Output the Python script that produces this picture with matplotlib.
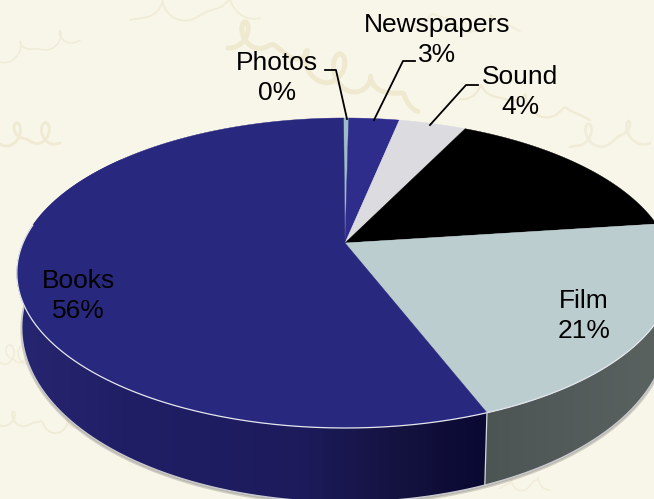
import numpy as np
import matplotlib
matplotlib.use('Agg')
import matplotlib.pyplot as plt
from matplotlib.patches import Polygon

plt.rcParams['font.family'] = ['Liberation Sans', 'DejaVu Sans']

# Slices, clockwise from 12 o'clock
categories = ['Photos', 'Newspapers', 'Sound', 'Other', 'Film', 'Books']
shares = [0.3, 3.0, 4.0, 15.7, 21.2, 55.8]
colors = ['#9dbcc6', '#2e2d8c', '#dcdce0', '#000000', '#bccdd0', '#29287f']

# Printed labels
label_text = ['Photos\n0%', 'Newspapers\n3%', 'Sound\n4%', 'Books\n56%', 'Film\n21%']
label_pos = [(277, 78), (437, 40), (520, 92), (78, 296), (584, 316)]

# Leader lines
leaders = [
    [(325, 70), (336, 70), (347, 119)],
    [(415, 61), (403, 61), (374, 120)],
    [(478, 85), (466, 85), (430, 125)],
]

# Perspective of the pie on screen
CX, CY = 345, 243
RX = 322
H = 149.2
K = 0.1935
START = -0.3


def top_xy(deg):
    t = np.radians(deg)
    u, v = np.sin(t), np.cos(t)
    d = 1 + K * v
    return CX + RX * u / d, CY - H * v / d


def bottom_xy(deg):
    x, y = top_xy(deg)
    v = np.cos(np.radians(deg))
    return CX + (x - CX) * 0.985, y + 50 - 24 * v


def arc(func, a, b):
    n = max(int(abs(b - a) * 2), 2)
    x, y = func(np.linspace(a, b, n))
    return np.column_stack([x, y])


def gradient_fill(ax, poly, stops, zorder):
    # horizontal gradient clipped to polygon
    xs = np.linspace(0, 654, 327)
    px = [s[0] for s in stops]
    rgb = np.array([matplotlib.colors.to_rgb(s[1]) for s in stops])
    img = np.stack([np.interp(xs, px, rgb[:, i]) for i in range(3)], axis=-1)[None, :, :]
    im = ax.imshow(img, extent=(0, 654, 499, 0), aspect='auto', zorder=zorder, interpolation='bilinear')
    patch = Polygon(poly, closed=True, transform=ax.transData, fc='none', ec='none')
    ax.add_patch(patch)
    im.set_clip_path(patch)


def script_stroke(ax, x0, y0, length, slope, r, loops, lw=2.0, color='#f1ecd8'):
    # decorative handwriting in the backdrop, loop size wanders along the stroke
    t = np.linspace(0, 1, 400)
    rr = r * (0.55 + 0.45 * np.sin(2 * np.pi * 1.7 * t + x0))
    x = x0 + length * t + rr * np.sin(2 * np.pi * loops * t)
    y = y0 + slope * length * t + 1.4 * rr * np.cos(2 * np.pi * loops * t)
    ax.plot(x, y, color=color, lw=lw, solid_capstyle='round', zorder=1)


fig = plt.figure(figsize=(6.54, 4.99), dpi=100, facecolor='#f8f5e9')
ax = fig.add_axes([0, 0, 1, 1])
ax.set_facecolor('#f8f5e9')
ax.axis('off')

# Backdrop
script_stroke(ax, 228, 30, 190, 0.38, 13, 6, lw=3.5, color='#efe9d0')
script_stroke(ax, 130, 18, 130, -0.1, 11, 2, lw=1.3)
script_stroke(ax, 410, 15, 110, 0.1, 9, 2, lw=1.1)
script_stroke(ax, 460, 88, 130, 0.22, 8, 3, lw=1.5, color='#f0ead3')
script_stroke(ax, 570, 145, 80, -0.2, 13, 2, lw=1.8)
script_stroke(ax, 0, 135, 60, 0.1, 12, 2, lw=2.0, color='#f0ead3')
script_stroke(ax, 0, 55, 80, -0.2, 9, 2, lw=1.1)
script_stroke(ax, 0, 420, 80, 0.08, 7, 3, lw=1.4)
script_stroke(ax, 0, 355, 30, 0.2, 10, 2, lw=1.0)
script_stroke(ax, 500, 485, 50, -0.1, 7, 2, lw=1.0)

edges = START + np.concatenate([[0], np.cumsum(shares)]) * 3.6
film_a, film_b = edges[4], edges[5]
books_a, books_b = edges[5], edges[5] + 150

# Soft shadow under the disc
sh = arc(bottom_xy, 40, 320) + np.array([0, 2])
ax.add_patch(Polygon(sh, closed=True, fc='#8a8a80', ec='#8a8a80', lw=2, alpha=0.35, zorder=2))

# Sides
film_side = np.vstack([arc(top_xy, film_a, film_b), arc(bottom_xy, film_b, film_a)])
gradient_fill(ax, film_side, [(484, '#4c5554'), (654, '#59625f')], 3)
books_side = np.vstack([arc(top_xy, books_a, books_b), arc(bottom_xy, books_b, books_a)])
gradient_fill(ax, books_side, [(20, '#26256f'), (120, '#201f66'), (300, '#1d1b5c'),
                               (400, '#14123f'), (484, '#0a0932')], 3)

# Rim highlights
rim = arc(bottom_xy, film_a, books_b)
ax.plot(rim[:, 0], rim[:, 1], color='#c9c9cf', lw=1.0, zorder=4)
sep = np.vstack([top_xy(film_b), bottom_xy(film_b)])
ax.plot(sep[:, 0], sep[:, 1], color='#d5d8dc', lw=0.9, zorder=4)

# Top face
for i, name in enumerate(categories):
    pts = np.vstack([[CX, CY], arc(top_xy, edges[i], edges[i + 1])])
    ax.add_patch(Polygon(pts, closed=True, fc=colors[i], ec=colors[i], lw=0.3, zorder=5))

# highlight stops short of the left edge
front = arc(top_xy, film_a, 277)
ax.plot(front[:, 0], front[:, 1], color='#e4e6ee', lw=0.9, zorder=6)

# Leaders and labels
for line in leaders:
    pts = np.array(line)
    ax.plot(pts[:, 0], pts[:, 1], color='black', lw=1.3, zorder=7)
for txt, (x, y) in zip(label_text, label_pos):
    ax.text(x, y, txt, ha='center', va='center', fontsize=19, color='black',
            linespacing=1.33, zorder=8)

ax.set_xlim(0, 654)
ax.set_ylim(499, 0)
fig.savefig('out.png', dpi=100, facecolor=fig.get_facecolor())
